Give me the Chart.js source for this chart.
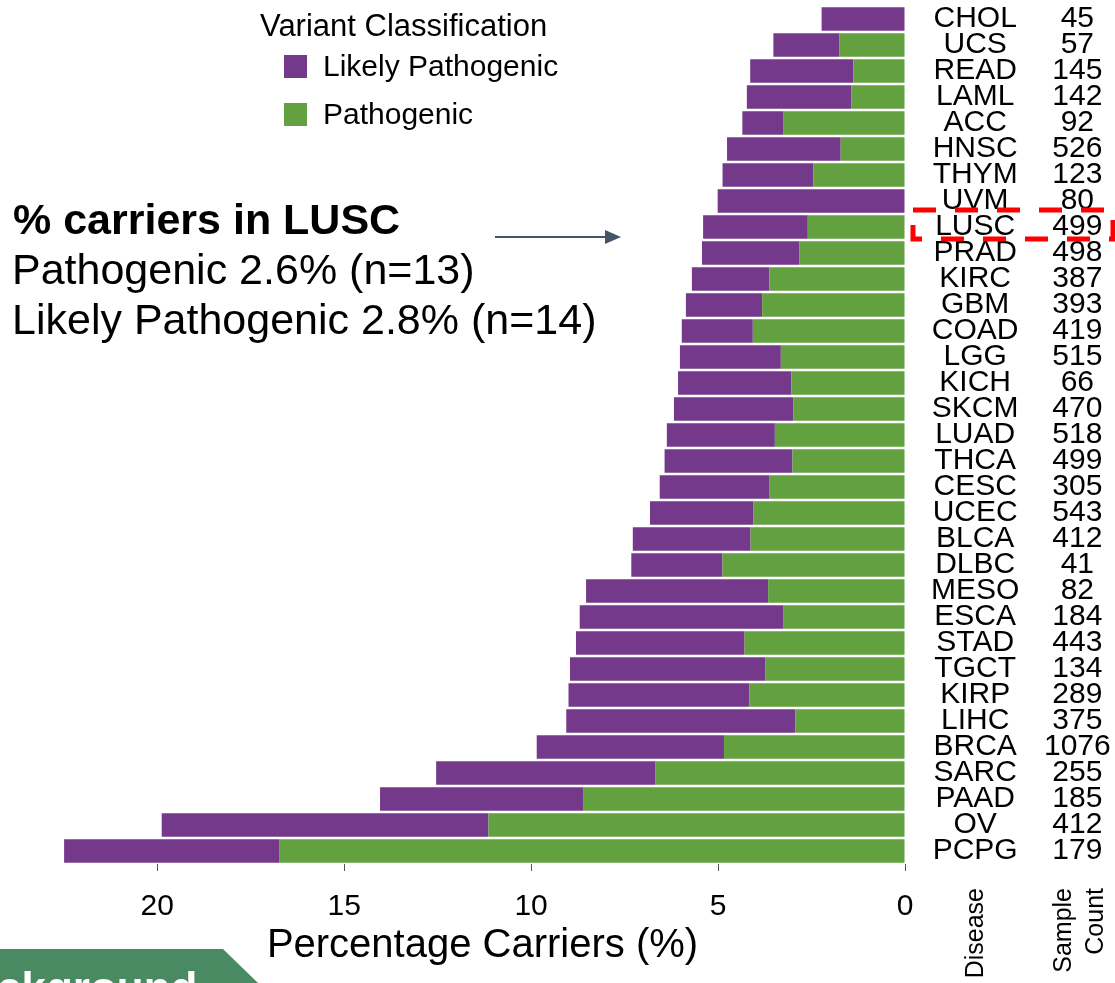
<!DOCTYPE html>
<html>
<head>
<meta charset="utf-8">
<title>Percentage Carriers</title>
<script src="https://cdn.jsdelivr.net/npm/chart.js@4.4.0/dist/chart.umd.min.js"></script>
<style>
  body { margin: 0; background: #fff; }
  canvas { display: block; }
</style>
</head>
<body>
<canvas id="carriers" width="1115" height="983"></canvas>
<script>
// values (percent of samples)
const diseases = ['CHOL','UCS','READ','LAML','ACC','HNSC','THYM','UVM','LUSC','PRAD','KIRC','GBM','COAD','LGG','KICH','SKCM','LUAD',
                  'THCA','CESC','UCEC','BLCA','DLBC','MESO','ESCA','STAD','TGCT','KIRP','LIHC','BRCA','SARC','PAAD','OV','PCPG']
const sampleCount = [45,57,145,142,92,526,123,80,499,498,387,393,419,515,66,470,518,
                     499,305,543,412,41,82,184,443,134,289,375,1076,255,185,412,179]
const pathogenic = [0, 1.76, 1.38, 1.43, 3.26, 1.72, 2.45, 0, 2.6, 2.83, 3.63, 3.82, 4.07, 3.32, 3.04, 2.99, 3.48,
                    3.01, 3.62, 4.06, 4.13, 4.88, 3.66, 3.26, 4.29, 3.74, 4.16, 2.93, 4.84, 6.67, 8.61, 11.14, 16.74]
const likelyPathogenic = [2.23, 1.76, 2.76, 2.80, 1.09, 3.04, 2.43, 5.01, 2.8, 2.60, 2.07, 2.04, 1.90, 2.70, 3.03, 3.19, 2.89,
                          3.42, 2.94, 2.76, 3.15, 2.44, 4.87, 5.44, 4.51, 5.22, 4.84, 6.13, 5.01, 5.87, 5.43, 8.74, 5.75]
const xTicks = [0, 5, 10, 15, 20]

const FONT = '"Liberation Sans", Arial, Helvetica, sans-serif'
Chart.defaults.font.family = FONT
Chart.defaults.color = '#000'

// the right-hand label columns should not push the plot down
function fixColumn(width){
    return function(scale){
        scale.width = width
        scale.paddingTop = 0
        scale.paddingBottom = 0
    }
}

const extras = {
    id: 'extras',
    afterDraw(chart){
        const ctx = chart.ctx
        const rowY = chart.scales.y.getPixelForValue(diseases.indexOf('LUSC'))
        ctx.save()

        // legend
        ctx.fillStyle = '#000'
        ctx.textAlign = 'left'
        ctx.textBaseline = 'alphabetic'
        ctx.font = '31px ' + FONT
        ctx.fillText('Variant Classification', 260, 36)
        ctx.font = '30px ' + FONT
        const entries = [chart.data.datasets[1], chart.data.datasets[0]]
        entries.forEach(function(ds, i){
            ctx.fillStyle = ds.backgroundColor
            ctx.fillRect(284, 55 + i * 48, 23, 23)
            ctx.fillStyle = '#000'
            ctx.fillText(ds.label, 323, 76 + i * 48)
        })

        // LUSC note
        ctx.font = 'bold 43px ' + FONT
        ctx.fillText('% carriers in LUSC', 13, 234)
        ctx.font = '43px ' + FONT
        ctx.fillText('Pathogenic 2.6% (n=13)', 12, 284)
        ctx.fillText('Likely Pathogenic 2.8% (n=14)', 12, 334)

        // arrow
        ctx.strokeStyle = '#44546a'
        ctx.fillStyle = '#44546a'
        ctx.lineWidth = 2
        ctx.beginPath()
        ctx.moveTo(495, rowY + 10)
        ctx.lineTo(608, rowY + 10)
        ctx.stroke()
        ctx.beginPath()
        ctx.moveTo(621, rowY + 10)
        ctx.lineTo(605, rowY + 3)
        ctx.lineTo(605, rowY + 17)
        ctx.closePath()
        ctx.fill()

        // red dashed box around LUSC
        ctx.strokeStyle = '#ff0000'
        ctx.lineWidth = 5
        ctx.setLineDash([23, 19])
        ctx.strokeRect(913, rowY - 17, 200, 29)
        ctx.setLineDash([])

        // column titles
        ctx.fillStyle = '#000'
        ctx.font = '25px ' + FONT
        ctx.textAlign = 'right'
        const cols = [['Disease', 983], ['Sample', 1071], ['Count', 1103]]
        cols.forEach(function(c){
            ctx.save()
            ctx.translate(c[1], 888)
            ctx.rotate(-Math.PI / 2)
            ctx.fillText(c[0], 0, 0)
            ctx.restore()
        })

        // slide banner in the corner
        ctx.fillStyle = '#4a8a62'
        ctx.beginPath()
        ctx.moveTo(0, 949)
        ctx.lineTo(223, 949)
        ctx.lineTo(258, 983)
        ctx.lineTo(0, 983)
        ctx.closePath()
        ctx.fill()
        ctx.fillStyle = '#fff'
        ctx.textAlign = 'left'
        ctx.font = 'bold 44px ' + FONT
        ctx.fillText('ckground', -3, 1003)

        ctx.restore()
    }
}

const ctx = document.getElementById('carriers').getContext('2d')
const myChart = new Chart(ctx, {
    type: 'bar',
    data: {
        labels: diseases,
        datasets: [{
            label: 'Pathogenic',
            data: pathogenic,
            backgroundColor: '#63a03f',
            borderWidth: 0,
            barPercentage: 0.9,
            categoryPercentage: 1
        }, {
            label: 'Likely Pathogenic',
            data: likelyPathogenic,
            backgroundColor: '#75398b',
            borderWidth: 0,
            barPercentage: 0.9,
            categoryPercentage: 1
        }]
    },
    options: {
        indexAxis: 'y',
        responsive: false,
        animation: false,
        layout: { padding: { top: 6, left: 60, right: 4, bottom: 0 } },
        plugins: {
            legend: { display: false },
            tooltip: { enabled: false }
        },
        scales: {
            x: {
                stacked: true,
                reverse: true,
                min: 0,
                max: 22.6,
                afterBuildTicks: function(scale){
                    scale.ticks = xTicks.map(function(v){ return { value: v } })
                },
                afterFit: function(scale){ scale.height = 119 },
                grid: { drawOnChartArea: false, tickLength: 7, color: '#555' },
                border: { display: false },
                ticks: { font: { size: 30 }, padding: 18, color: '#000', maxRotation: 0 },
                title: {
                    display: true,
                    text: 'Percentage Carriers (%)',
                    font: { size: 40 },
                    color: '#000',
                    padding: { top: 0, bottom: 13 }
                }
            },
            y: {
                stacked: true,
                position: 'right',
                weight: 0,
                afterFit: fixColumn(116),
                grid: { display: false, drawTicks: false },
                border: { display: false },
                ticks: { font: { size: 30 }, padding: 26, crossAlign: 'center', color: '#000', autoSkip: false }
            },
            y2: {
                type: 'category',
                labels: sampleCount.map(String),
                position: 'right',
                weight: 1,
                offset: true,
                afterFit: fixColumn(90),
                grid: { display: false, drawTicks: false },
                border: { display: false },
                ticks: { font: { size: 30 }, padding: 23, crossAlign: 'center', color: '#000', autoSkip: false }
            }
        }
    },
    plugins: [extras]
})
</script>
</body>
</html>
